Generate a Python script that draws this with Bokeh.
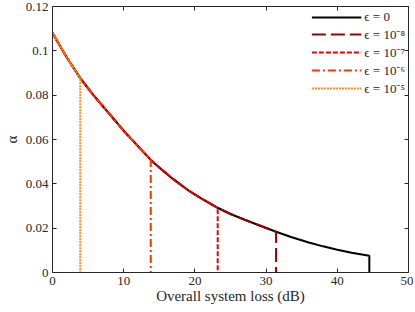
from bokeh.plotting import figure
from bokeh.models import (FixedTicker, LinearAxis, Range1d, CustomJSTickFormatter,
                          Legend, LegendItem)
from bokeh.embed import file_html
from bokeh.resources import INLINE

# Data
loss = [0, 2, 3.9, 5.6, 8, 10.2, 12, 13.8, 15.4, 17, 19.1, 21, 23.2, 25, 27,
        29, 31.4, 33.5, 36, 38, 40, 42, 44.5]
alpha = [0.1080, 0.0970, 0.0877, 0.0806, 0.0715, 0.0632, 0.0570, 0.0508,
         0.0462, 0.0420, 0.0370, 0.0332, 0.0292, 0.0264, 0.0238, 0.0213,
         0.0184, 0.0160, 0.0135, 0.0118, 0.0103, 0.0089, 0.0076]

series_labels = ["ϵ = 0", "ϵ = 10⁻⁸", "ϵ = 10⁻⁷", "ϵ = 10⁻⁶", "ϵ = 10⁻⁵"]
cutoff_loss = [44.5, 31.4, 23.2, 13.8, 3.9]
cutoff_alpha = [0.0076, 0.0184, 0.0292, 0.0508, 0.0877]
colors = ["#000000", "#990000", "#e60000", "#ff3300", "#ff8a1a"]
dashes = ["solid", "14 5", "5 2", "8 3 2 3", "2 1"]

x_ticks = [0, 10, 20, 30, 40, 50]
y_ticks = [0, 0.02, 0.04, 0.06, 0.08, 0.1, 0.12]

FONT = "Liberation Serif"
AX = "#262626"

p = figure(width=413, height=306, output_backend="svg", toolbar_location=None,
           x_range=Range1d(0, 50), y_range=Range1d(0, 0.12),
           min_border_left=42, min_border_right=5, min_border_top=6,
           min_border_bottom=0)
p.grid.visible = False
p.outline_line_color = None

fmt = CustomJSTickFormatter(code="return String(Number(tick.toFixed(4)));")
blank = CustomJSTickFormatter(code="return '';")

def style_axis(ax):
    ax.axis_line_color = AX
    ax.major_tick_line_color = AX
    ax.major_tick_in = 4
    ax.major_tick_out = 0
    ax.minor_tick_line_color = None
    ax.major_label_text_font = FONT
    ax.major_label_text_font_size = "13px"
    ax.major_label_text_color = "#262626"
    ax.axis_label_text_font = FONT
    ax.axis_label_text_font_style = "normal"
    ax.axis_label_text_font_size = "15px"
    ax.axis_label_text_color = "#262626"

p.xaxis.ticker = FixedTicker(ticks=x_ticks)
p.yaxis.ticker = FixedTicker(ticks=y_ticks)
p.xaxis.formatter = fmt
p.yaxis.formatter = fmt
p.xaxis.axis_label = "Overall system loss (dB)"
p.yaxis.axis_label = "α"
p.xaxis.major_label_standoff = 4
p.xaxis.axis_label_standoff = 0
p.yaxis.major_label_standoff = 4
p.yaxis.axis_label_standoff = 3
style_axis(p.xaxis[0])
style_axis(p.yaxis[0])

top = LinearAxis(ticker=FixedTicker(ticks=x_ticks), formatter=blank)
right = LinearAxis(ticker=FixedTicker(ticks=y_ticks), formatter=blank)
style_axis(top)
style_axis(right)
top.major_label_standoff = 0
right.major_label_standoff = 0
p.add_layout(top, "above")
p.add_layout(right, "right")

items = []
for lab, cl, ca, c, d in zip(series_labels, cutoff_loss, cutoff_alpha, colors, dashes):
    xs = [x for x in loss if x < cl] + [cl, cl]
    ys = [a for x, a in zip(loss, alpha) if x < cl] + [ca, 0]
    r = p.line(xs, ys, line_color=c, line_width=2, line_dash=d)
    items.append(LegendItem(label=lab, renderers=[r]))

leg = Legend(items=items, location="top_right")
leg.label_text_font = FONT
leg.label_text_font_size = "13px"
leg.label_text_color = "#262626"
leg.border_line_color = None
leg.background_fill_alpha = 0
leg.glyph_width = 50
leg.glyph_height = 10
leg.label_height = 10
leg.spacing = 0
leg.padding = 0
leg.margin = 3
leg.label_standoff = 3
p.add_layout(leg)

open("out.html", "w").write(file_html(p, INLINE))
